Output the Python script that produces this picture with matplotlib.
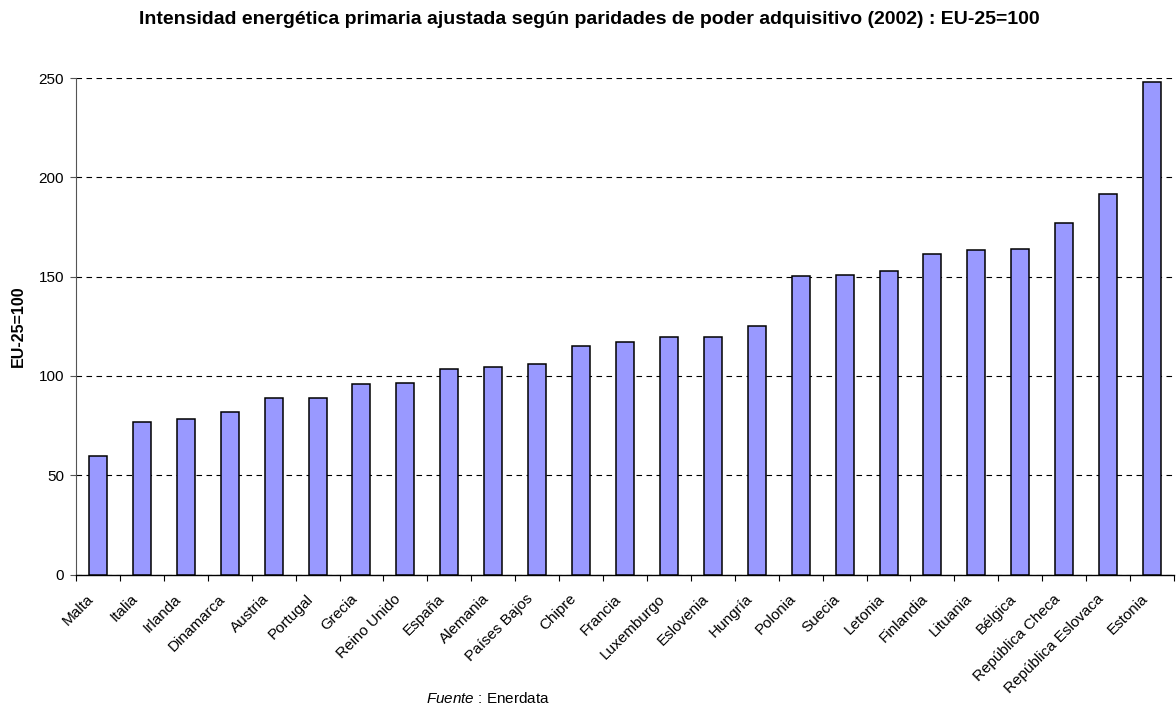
import matplotlib.pyplot as plt
import numpy as np

plt.rcParams['font.family'] = ['Liberation Sans', 'DejaVu Sans']
plt.rcParams['mathtext.fontset'] = 'custom'
plt.rcParams['mathtext.rm'] = 'Liberation Sans'
plt.rcParams['mathtext.it'] = 'Liberation Sans:italic'

paises = ['Malta', 'Italia', 'Irlanda', 'Dinamarca', 'Austria', 'Portugal',
          'Grecia', 'Reino Unido', 'España', 'Alemania', 'Países Bajos',
          'Chipre', 'Francia', 'Luxemburgo', 'Eslovenia', 'Hungría',
          'Polonia', 'Suecia', 'Letonia', 'Finlandia', 'Lituania', 'Bélgica',
          'República Checa', 'República Eslovaca', 'Estonia']
valores = [59.8, 76.9, 78.1, 81.8, 89.1, 89.0, 95.9, 96.5, 103.4, 104.5,
           105.8, 115.0, 116.9, 119.4, 119.4, 125.2, 150.3, 151.0, 152.7,
           161.3, 163.2, 163.9, 176.8, 191.5, 248.2]
yticks = [0, 50, 100, 150, 200, 250]

W, H = 1176, 705
fig = plt.figure(figsize=(W / 100, H / 100), dpi=100)
# axes box in pixels: x 76..1174, y 78..574
ax = fig.add_axes([76/W, 1 - 574.5/H, 1098/W, 496.5/H])

x = np.arange(len(paises))
ax.bar(x, valores, width=0.41, color='#9999FF', edgecolor='black', linewidth=1.1, zorder=3)

ax.set_xlim(-0.5, len(paises) - 0.5)
ax.set_ylim(0, 250)
ax.set_yticks(yticks)
ax.yaxis.grid(True, linestyle=(0, (5, 4)), color='black', linewidth=0.8, zorder=0)
ax.tick_params(axis='y', labelsize=11, length=4.5, direction='out', pad=4, color='#555555')

# tick marks between categories, labels a bit left of the bar centres
ax.set_xticks(np.arange(len(paises) + 1) - 0.5)
ax.set_xticklabels([])
ax.set_xticks(x - 0.15, minor=True)
ax.set_xticklabels(paises, minor=True, rotation=45, ha='right', va='center',
                   rotation_mode='anchor', fontsize=11)
ax.tick_params(axis='x', which='major', length=4.5, direction='out')
ax.tick_params(axis='x', which='minor', length=0, pad=16)

for s in ['top', 'right']:
    ax.spines[s].set_visible(False)
ax.spines['left'].set_color('#555555')
ax.spines['bottom'].set_linewidth(1.0)

ax.set_ylabel('EU-25=100', fontsize=11.5, fontweight='bold', labelpad=9)

fig.text(589/W, 1 - 20/H, 'Intensidad energética primaria ajustada según paridades de poder adquisitivo (2002) : EU-25=100',
         ha='center', va='center', fontsize=14, fontweight='bold')
fig.text(488/W, 1 - 703/H, r'$\it{Fuente}$ : Enerdata', ha='center', va='baseline', fontsize=11)

fig.savefig('out.png', dpi=100)
